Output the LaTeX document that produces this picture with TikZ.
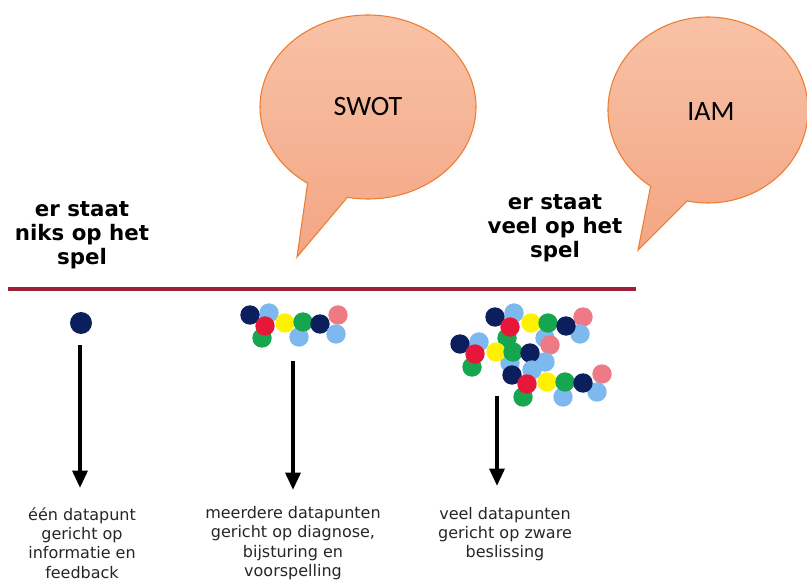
\documentclass[tikz,border=0pt]{standalone}
\usepackage{fontspec}
\usetikzlibrary{arrows.meta,calc}
\newfontfamily\dejavu{DejaVu Sans}
\newfontfamily\carl{Carlito}
\definecolor{navyd}{HTML}{0B1F5C}
\definecolor{lblue}{HTML}{7DB8EE}
\definecolor{redd}{HTML}{E8173A}
\definecolor{greend}{HTML}{16A650}
\definecolor{yellowd}{HTML}{FFF200}
\definecolor{pinkd}{HTML}{EE7A85}
\definecolor{lineR}{HTML}{A01E38}
\definecolor{bubTop}{HTML}{F8C2A7}
\definecolor{bubBot}{HTML}{F3A684}
\definecolor{bubEdge}{HTML}{ED7D31}
\definecolor{txt}{HTML}{262626}
\tikzset{
  bubble/.style={draw=bubEdge,line width=0.8pt,top color=bubTop,bottom color=bubBot},
  bubtext/.style={font=\carl\fontsize{21}{25}\selectfont,text=black},
  toplbl/.style={font=\dejavu\bfseries\fontsize{16}{18}\selectfont,align=center,text=black},
  botlbl/.style={font=\dejavu\fontsize{12}{14.4}\selectfont,align=center,text=txt},
  arr/.style={line width=3pt,-{Triangle[width=11pt,length=13pt]}},
}
\begin{document}
\begin{tikzpicture}[x=0.75pt,y=-0.75pt]
\useasboundingbox (0,0) rectangle (807,581);
% speech bubbles
\draw[bubble] ($(368,107)+(101:108 and 92)$) arc[start angle=101,end angle=-236,x radius=108,y radius=92] -- (297,257) -- cycle;
\node[bubtext] (swot) at (368,107) {SWOT};
\draw[bubble] ($(708,110)+(102:100 and 93)$) arc[start angle=102,end angle=-235,x radius=100,y radius=93] -- (638,250) -- cycle;
\node[bubtext] (iam) at (711,112) {IAM};
% top labels
\node[toplbl] (lnone) at (82,235) {er staat\\niks op het\\spel};
\node[toplbl] (lmuch) at (555,228) {er staat\\veel op het\\spel};
% red line
\coordinate (rl1) at (8,289);
\coordinate (rl2) at (636,289);
\draw[lineR,line width=3pt] (rl1) -- (rl2);
% single dot
\fill[navyd] (81,323) circle[radius=11];
% cluster 1
\foreach \x/\y/\c in {269/313/lblue,250/315/navyd,262/338/greend,265/326/redd,285/323/yellowd,
  299/337/lblue,303/322/greend,338/315/pinkd,320/324/navyd,336/334/lblue}
  {\fill[\c] (\x,\y) circle[radius=9.7];}
% cluster 2
\foreach \x/\y/\c in {
  545/338/lblue,550/345/pinkd,514/313/lblue,495/317/navyd,507/338/greend,510/327/redd,531/323/yellowd,
  548/323/greend,583/317/pinkd,580/334/lblue,566/326/navyd,
  510/363/lblue,545/362/lblue,479/342/lblue,460/344/navyd,472/367/greend,475/354/redd,496/352/yellowd,
  513/352/greend,530/353/navyd,
  532/370/lblue,512/375/navyd,523/397/greend,527/384/redd,547/382/yellowd,563/397/lblue,565/382/greend,
  602/374/pinkd,597/392/lblue,583/383/navyd}
  {\fill[\c] (\x,\y) circle[radius=9.7];}
% arrows
\coordinate (a1s) at (80,345);
\coordinate (a1e) at (80,488);
\coordinate (a2s) at (293,361);
\coordinate (a2e) at (293,490);
\coordinate (a3s) at (497,396);
\coordinate (a3e) at (497,486);
\draw[arr] (a1s) -- (a1e);
\draw[arr] (a2s) -- (a2e);
\draw[arr] (a3s) -- (a3e);
% bottom labels
\node[botlbl] (b1) at (82,543) {één datapunt\\gericht op\\informatie en\\feedback};
\node[botlbl] (b2) at (293,543) {meerdere datapunten\\gericht op diagnose,\\bijsturing en\\voorspelling};
\node[botlbl] (b3) at (505,534) {veel datapunten\\gericht op zware\\beslissing};
\end{tikzpicture}
\end{document}
